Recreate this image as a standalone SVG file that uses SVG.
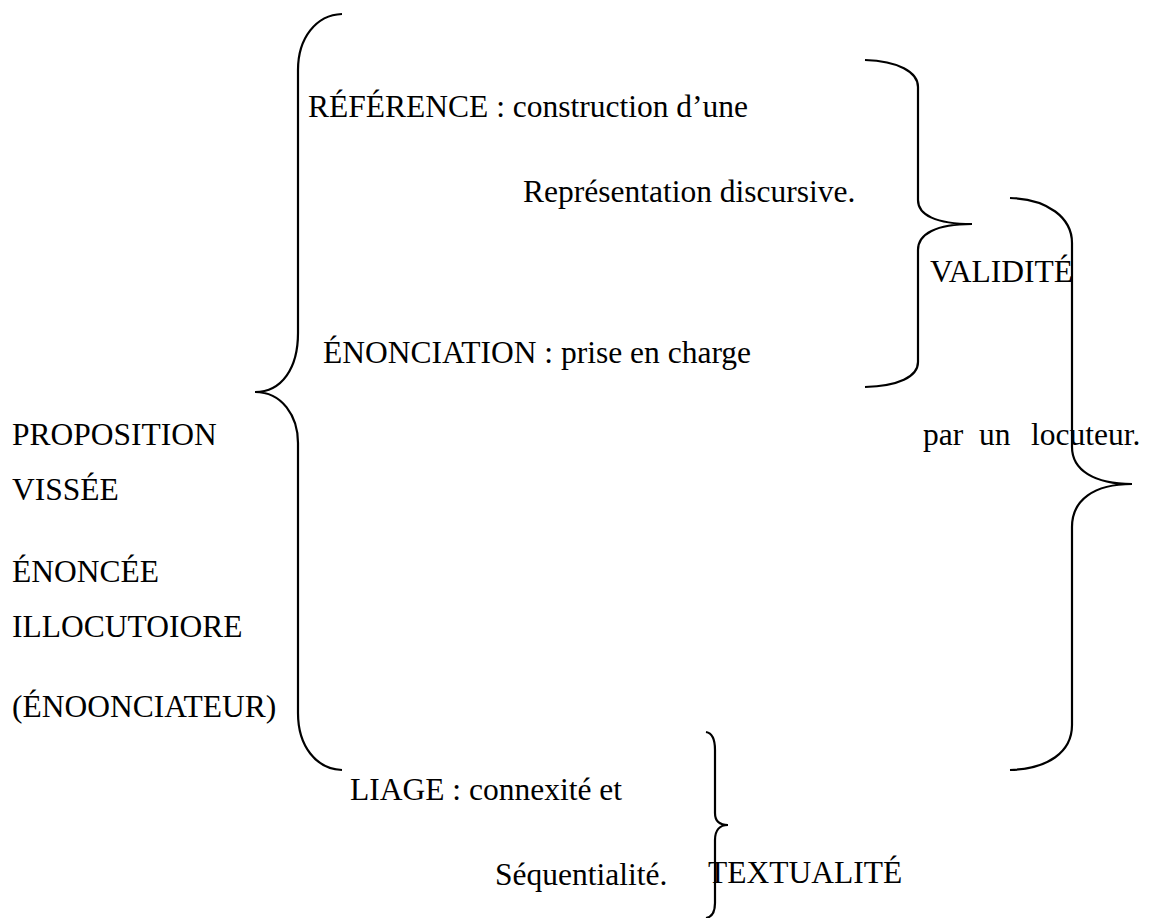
<svg xmlns="http://www.w3.org/2000/svg" width="1155" height="918" viewBox="0 0 1155 918">
<style>
text{font-family:"Liberation Serif","Times New Roman",serif;font-size:31.5px;fill:#000}
.brace{fill:none;stroke:#000;stroke-width:2.2}
</style>
<rect width="1155" height="918" fill="#fff"/>
<g id="connectors">
<path class="brace" d="M342,14 C316,15 298,38 298,70 L298,333 C298,368 282,392 255,392 C282,392 298,416 298,443 L298,713 C298,746 316,769 342,770"/>
<path class="brace" d="M865,60 C898,61 918,72 918,87 L918,200 C918,215 936,224 972,224 C936,224 918,234 918,250 L918,362 C918,377 898,386 865,387"/>
<path class="brace" d="M1010,198 C1048,199 1072,218 1072,243 L1072,447 C1072,470 1094,484 1132,484 C1094,484 1072,500 1072,527 L1072,725 C1072,752 1048,769 1010,770"/>
<path class="brace" d="M706,732 C712,733 715,740 715,750 L715,813 C715,821 720,825 728,825 C720,825 715,830 715,840 L715,903 C715,912 712,917 706,918"/>
</g>
<g id="reference"><text x="308" y="117">RÉFÉRENCE : construction d’une</text></g>
<g id="representation"><text x="523" y="202">Représentation discursive.</text></g>
<g id="validite"><text x="930" y="282">VALIDITÉ</text></g>
<g id="enonciation"><text x="323" y="363">ÉNONCIATION : prise en charge</text></g>
<g id="locuteur"><text x="923" y="445">par</text><text x="979" y="445">un</text><text x="1031" y="445">locuteur.</text></g>
<g id="proposition">
<text x="12" y="445">PROPOSITION</text>
<text x="12" y="500">VISSÉE</text>
<text x="12" y="582">ÉNONCÉE</text>
<text x="12" y="637">ILLOCUTOIORE</text>
<text x="12" y="717">(ÉNOONCIATEUR)</text>
</g>
<g id="liage"><text x="350" y="800">LIAGE : connexité et</text></g>
<g id="sequentialite"><text x="495" y="885">Séquentialité.</text></g>
<g id="textualite"><text x="708" y="883">TEXTUALITÉ</text></g>
</svg>
